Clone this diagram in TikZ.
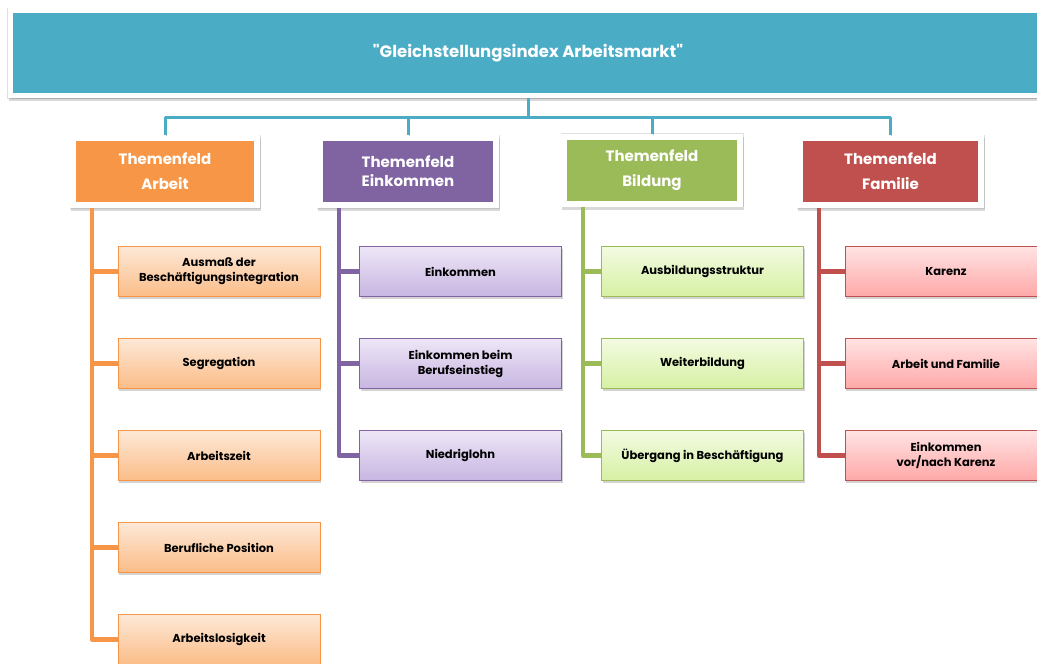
\documentclass[tikz,border=0pt]{standalone}
\usepackage{fontspec}
\setmainfont{Poppins}[Ligatures=TeXOff]
\usetikzlibrary{shadows}

% --- Colours ---
\definecolor{TitleBlue}{HTML}{4BACC6}
\definecolor{ArbLine}{HTML}{F79646}
\definecolor{ArbTop}{HTML}{FDE8D7}
\definecolor{ArbBot}{HTML}{FBBD88}
\definecolor{EinLine}{HTML}{8064A2}
\definecolor{EinTop}{HTML}{EEE7F7}
\definecolor{EinBot}{HTML}{C7B5E1}
\definecolor{BilLine}{HTML}{9BBB59}
\definecolor{BilTop}{HTML}{F3FBE2}
\definecolor{BilBot}{HTML}{D6F0A3}
\definecolor{FamLine}{HTML}{C0504D}
\definecolor{FamTop}{HTML}{FFE3E3}
\definecolor{FamBot}{HTML}{FFA8A8}

\begin{document}
\begin{tikzpicture}[x=1pt, y=-1pt,
    softshadow/.style={drop shadow={shadow xshift=1pt, shadow yshift=-2.5pt, opacity=0.35}},
    framedshadow/.style={drop shadow={shadow xshift=1pt, shadow yshift=-3pt, opacity=0.3,
        draw=black!50, line width=#1}},
    titlebox/.style={draw=white, line width=5pt, fill=TitleBlue, text=white,
        preaction={draw=black!12, line width=6pt},
        minimum width=1036pt, minimum height=85pt, framedshadow=5pt,
        font=\bfseries\fontsize{16.5}{20}\selectfont},
    headbox/.style={draw=white, line width=6pt, fill=#1, text=white, align=center,
        preaction={draw=black!12, line width=7pt},
        minimum height=67pt, framedshadow=6pt, font=\bfseries\fontsize{15}{25}\selectfont},
    itembox/.style n args={3}{draw=#1, line width=0.9pt, top color=#2, bottom color=#3,
        minimum width=202pt, minimum height=50pt, align=center, softshadow,
        font=\bfseries\fontsize{11.5}{15}\selectfont},
    topline/.style={TitleBlue, line width=3pt, line join=round},
    branch/.style={#1, line width=4.5pt, line join=round},
]

    % --- Dimensions ---
    \def\RowTop{271.5}
    \def\RowGap{92}
    \def\TrunkIn{22}

    \useasboundingbox (0,0) rectangle (1037,664);

    % --- Title bar ---
    \node[titlebox] (title) at (528,53) {"Gleichstellungsindex Arbeitsmarkt"};

    % --- Theme headers ---
    \node[headbox=ArbLine, minimum width=184pt] (hA) at (165,171.5) {Themenfeld\\Arbeit};
    \node[headbox=EinLine, minimum width=176pt, font=\bfseries\fontsize{15}{19}\selectfont]
        (hE) at (408,171.5) {Themenfeld\\Einkommen};
    \node[headbox=BilLine, minimum width=176pt] (hB) at (652,170) {Themenfeld\\Bildung};
    \node[headbox=FamLine, minimum width=181pt] (hF) at (890.5,171.5) {Themenfeld\\Familie};

    % --- Connectors from the title to the headers ---
    \coordinate (bus) at ([yshift=-19pt]title.south);
    \foreach \h in {hA,hE,hB,hF}
        \draw[topline, preaction={draw=black!60, opacity=0.4, transform canvas={xshift=1pt, yshift=-1.2pt}}]
            (title.south) -- (bus) -| (\h.north);

    % --- Themenfeld Arbeit ---
    \foreach \i/\txt in {1/{Ausmaß der\\Beschäftigungsintegration}, 2/Segregation,
                         3/Arbeitszeit, 4/Berufliche Position, 5/Arbeitslosigkeit} {
        \node[itembox={ArbLine}{ArbTop}{ArbBot}] (a\i) at (219, {\RowTop+\RowGap*(\i-1)}) {\txt};
        \draw[branch=ArbLine] ([xshift=\TrunkIn pt]hA.south west) |- (a\i.west);
    }

    % --- Themenfeld Einkommen ---
    \foreach \i/\txt in {1/Einkommen, 2/{Einkommen beim\\Berufseinstieg}, 3/Niedriglohn} {
        \node[itembox={EinLine}{EinTop}{EinBot}] (e\i) at (460.5, {\RowTop+\RowGap*(\i-1)}) {\txt};
        \draw[branch=EinLine] ([xshift=\TrunkIn pt]hE.south west) |- (e\i.west);
    }

    % --- Themenfeld Bildung ---
    \foreach \i/\txt in {1/Ausbildungsstruktur, 2/Weiterbildung, 3/Übergang in Beschäftigung} {
        \node[itembox={BilLine}{BilTop}{BilBot}] (b\i) at (702.5, {\RowTop+\RowGap*(\i-1)}) {\txt};
        \draw[branch=BilLine] ([xshift=\TrunkIn pt]hB.south west) |- (b\i.west);
    }

    % --- Themenfeld Familie ---
    \foreach \i/\txt in {1/Karenz, 2/Arbeit und Familie, 3/{Einkommen\\vor/nach Karenz}} {
        \node[itembox={FamLine}{FamTop}{FamBot}] (f\i) at (946, {\RowTop+\RowGap*(\i-1)}) {\txt};
        \draw[branch=FamLine] ([xshift=\TrunkIn pt]hF.south west) |- (f\i.west);
    }

\end{tikzpicture}
\end{document}
